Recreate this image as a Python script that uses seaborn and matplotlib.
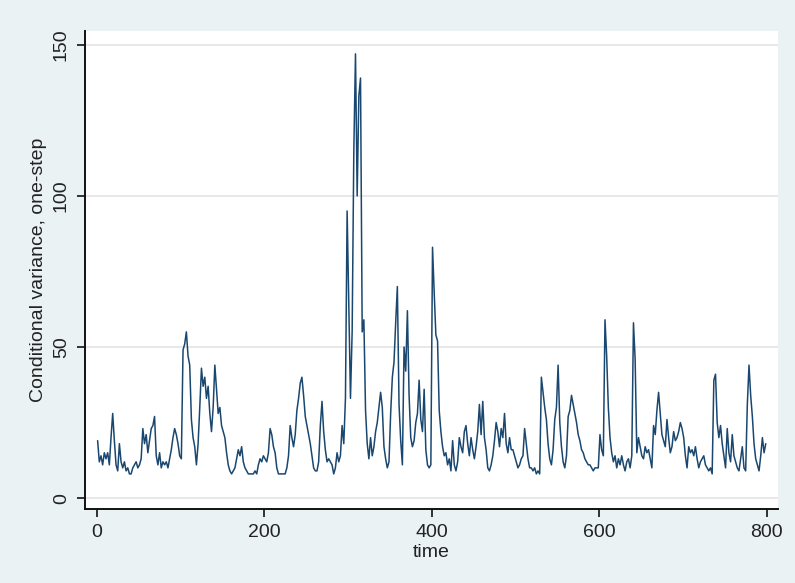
import pandas as pd
import matplotlib
matplotlib.use("Agg")
import matplotlib.pyplot as plt
import seaborn as sns

# time index, every second observation (1, 3, ..., 799)
time = list(range(1, 800, 2))

# conditional variance (20 time units per row)
cond_var = [
    19, 12, 14, 11, 15, 13, 15, 11, 20, 28,
    19, 11, 9, 18, 12, 10, 12, 9, 10, 8,
    8, 10, 11, 12, 10, 11, 13, 23, 18, 21,
    15, 19, 23, 24, 27, 14, 11, 15, 10, 12,
    11, 12, 10, 13, 16, 20, 23, 21, 18, 14,
    13, 49, 51, 55, 47, 44, 26, 20, 17, 11,
    18, 30, 43, 37, 40, 33, 37, 28, 22, 30,
    44, 36, 28, 30, 24, 22, 20, 15, 11, 9,
    8, 9, 10, 13, 16, 14, 17, 12, 10, 9,
    8, 8, 8, 8, 9, 8, 11, 13, 12, 14,
    13, 12, 15, 23, 21, 17, 15, 10, 8, 8,
    8, 8, 8, 10, 14, 24, 20, 17, 21, 29,
    33, 38, 40, 34, 27, 24, 21, 18, 14, 10,
    9, 9, 12, 24, 32, 22, 16, 12, 13, 12,
    11, 8, 10, 15, 12, 14, 24, 18, 33, 95,
    64, 33, 55, 115, 147, 100, 133, 139, 55, 59,
    29, 18, 13, 20, 14, 17, 22, 25, 30, 35,
    30, 17, 13, 10, 12, 28, 40, 45, 58, 70,
    31, 19, 11, 50, 42, 62, 34, 20, 17, 19,
    25, 28, 39, 26, 22, 36, 16, 11, 10, 11,
    83, 68, 54, 52, 29, 22, 17, 14, 15, 11,
    13, 9, 19, 11, 9, 12, 20, 17, 15, 22,
    24, 18, 14, 20, 16, 13, 17, 22, 31, 21,
    32, 20, 16, 10, 9, 11, 14, 19, 25, 22,
    17, 23, 20, 28, 18, 15, 20, 16, 16, 14,
    12, 10, 11, 13, 14, 23, 18, 13, 10, 10,
    9, 10, 8, 9, 8, 40, 35, 30, 26, 18,
    13, 11, 16, 26, 30, 44, 25, 17, 12, 10,
    14, 27, 29, 34, 31, 28, 25, 21, 19, 16,
    15, 13, 12, 11, 11, 10, 9, 10, 10, 10,
    21, 16, 14, 59, 47, 30, 20, 15, 12, 14,
    10, 13, 11, 14, 11, 9, 12, 13, 10, 14,
    58, 46, 15, 20, 17, 14, 13, 17, 15, 16,
    13, 10, 24, 21, 29, 35, 28, 21, 19, 17,
    26, 20, 15, 17, 22, 19, 20, 22, 25, 23,
    20, 14, 10, 17, 15, 16, 14, 17, 13, 10,
    12, 13, 14, 11, 10, 9, 10, 8, 39, 41,
    25, 20, 24, 18, 14, 10, 23, 15, 12, 21,
    14, 12, 10, 9, 13, 17, 10, 9, 31, 44,
    34, 27, 18, 13, 11, 9, 14, 20, 15, 18,
]

x_ticks = [0, 200, 400, 600, 800]
y_ticks = [0, 50, 100, 150]

df = pd.DataFrame({"time": time, "variance": cond_var})

sns.set_theme(style="white")
plt.rcParams["font.family"] = ["Liberation Sans", "DejaVu Sans"]

fig = plt.figure(figsize=(7.95, 5.83), dpi=100, facecolor="#eaf2f3")
ax = fig.add_axes([0.107, 0.127, 0.872, 0.820])
ax.set_facecolor("white")

sns.lineplot(data=df, x="time", y="variance", color="#1a476f",
             linewidth=1.1, ax=ax)

ax.set_xlim(-14, 814)
ax.set_ylim(-3.6, 154.6)
ax.set_xticks(x_ticks)
ax.set_yticks(y_ticks)
ax.set_yticklabels([str(v) for v in y_ticks], rotation=90, va="center")
ax.grid(axis="y", color="#e6e6e6", linewidth=1.3)
ax.grid(axis="x", visible=False)

for side in ["top", "right"]:
    ax.spines[side].set_visible(False)
for side in ["left", "bottom"]:
    ax.spines[side].set_color("#111111")
    ax.spines[side].set_linewidth(1.4)

ax.tick_params(axis="both", which="major", direction="out", length=6,
               width=1.2, color="#111111", labelsize=14,
               labelcolor="#222222", pad=5, left=True, bottom=True)

ax.set_xlabel("time", fontsize=14, color="#222222", labelpad=2)
ax.set_ylabel("Conditional variance, one-step", fontsize=14,
              color="#222222", labelpad=4)

fig.savefig("out.png", dpi=100, facecolor=fig.get_facecolor())
